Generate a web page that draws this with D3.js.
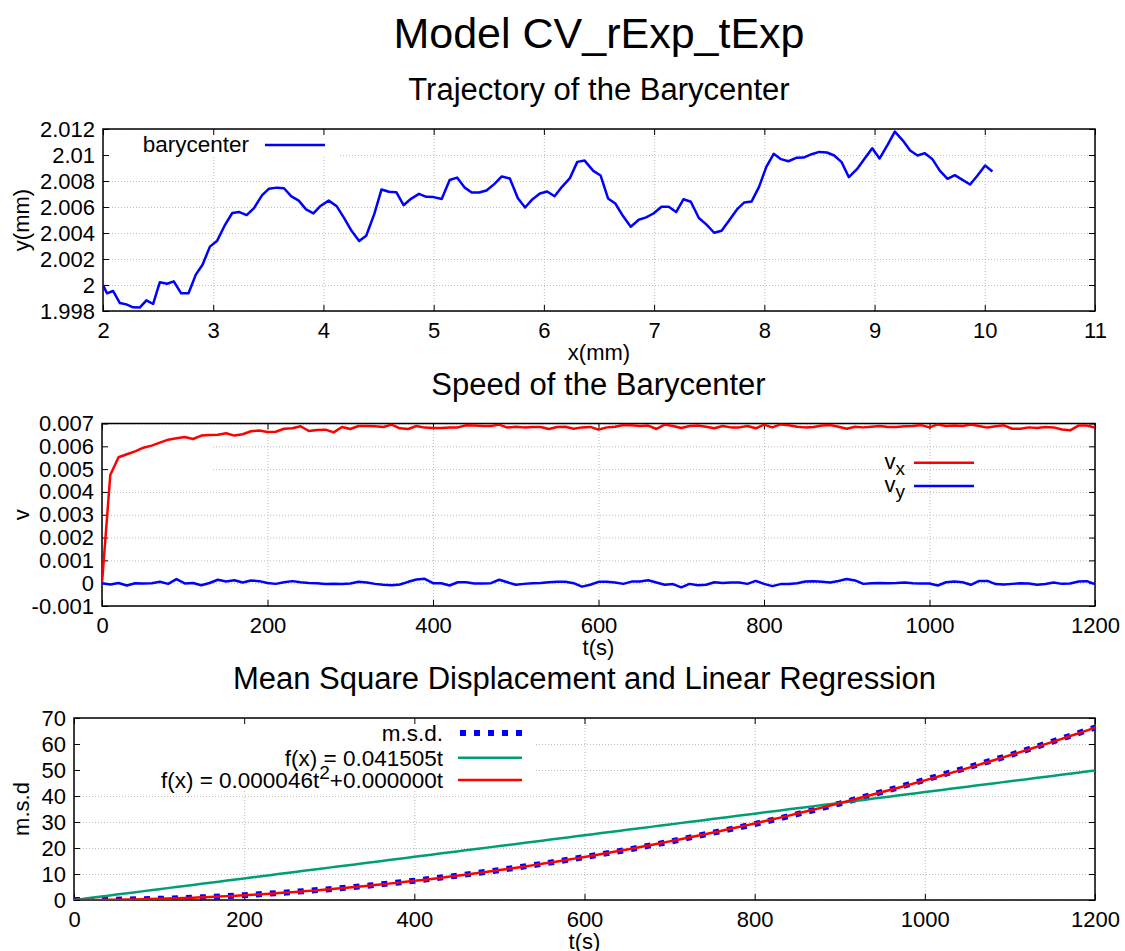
<!DOCTYPE html>
<html>
<head>
<meta charset="utf-8">
<script src="https://cdn.jsdelivr.net/npm/d3@7"></script>
<style>
  body { margin: 0; background: #fff; }
  svg text { font-family: "Liberation Sans", Arial, Helvetica, sans-serif; fill: #000; }
  .grid line { stroke: #bdbdbd; stroke-width: 1; stroke-dasharray: 1,2; }
  .grid path { display: none; }
  .ticks path { display: none; }
  .ticks line { stroke: #000; stroke-width: 1; }
  .ticks text { font-size: 22px; }
</style>
</head>
<body>
<div class="chart"></div>
<script>

// ---- trajectory of the barycenter (x, y in mm)
var posX = [2.000, 2.036, 2.091, 2.152, 2.212, 2.273, 2.333, 2.394, 2.455, 2.515, 2.582, 2.642, 2.709, 2.776, 2.842, 2.903, 2.970,
  3.036, 3.103, 3.173, 3.233, 3.303, 3.370, 3.442, 3.506, 3.576, 3.642, 3.709, 3.776, 3.842, 3.909, 3.976,
  4.048, 4.121, 4.188, 4.255, 4.324, 4.388, 4.461, 4.527, 4.594, 4.661, 4.727, 4.794, 4.867, 4.933, 5.000,
  5.073, 5.145, 5.212, 5.279, 5.345, 5.412, 5.479, 5.552, 5.618, 5.691, 5.764, 5.830, 5.897, 5.964,
  6.030, 6.097, 6.164, 6.236, 6.303, 6.370, 6.448, 6.515, 6.582, 6.648, 6.718, 6.788, 6.861, 6.927, 6.994,
  7.067, 7.133, 7.200, 7.267, 7.333, 7.406, 7.473, 7.545, 7.612, 7.685, 7.752, 7.818, 7.885, 7.952,
  8.018, 8.085, 8.151, 8.218, 8.290, 8.356, 8.429, 8.498, 8.568, 8.634, 8.701, 8.767, 8.840, 8.912, 8.979,
  9.045, 9.118, 9.184, 9.257, 9.323, 9.390, 9.456, 9.523, 9.592, 9.662, 9.728, 9.798, 9.867, 9.934,
  10.003, 10.069];
var posY = [2.00000, 1.99936, 1.99954, 1.99862, 1.99851, 1.99828, 1.99826, 1.99882, 1.99854, 2.00021, 2.00010, 2.00028, 1.99936, 1.99936, 2.00080, 2.00156, 2.00295,
  2.00341, 2.00456, 2.00554, 2.00562, 2.00538, 2.00592, 2.00690, 2.00741, 2.00749, 2.00744, 2.00682, 2.00649, 2.00582, 2.00551, 2.00610,
  2.00649, 2.00605, 2.00515, 2.00417, 2.00338, 2.00379, 2.00545, 2.00735, 2.00717, 2.00714, 2.00614, 2.00663, 2.00701, 2.00678, 2.00676,
  2.00662, 2.00808, 2.00826, 2.00751, 2.00712, 2.00712, 2.00727, 2.00778, 2.00835, 2.00819, 2.00668, 2.00596, 2.00660, 2.00704,
  2.00719, 2.00683, 2.00755, 2.00822, 2.00947, 2.00957, 2.00878, 2.00842, 2.00666, 2.00627, 2.00530, 2.00448, 2.00502, 2.00520, 2.00550,
  2.00602, 2.00602, 2.00561, 2.00660, 2.00640, 2.00515, 2.00466, 2.00402, 2.00417, 2.00502, 2.00581, 2.00635, 2.00643, 2.00755,
  2.00909, 2.01009, 2.00968, 2.00952, 2.00978, 2.00980, 2.01006, 2.01024, 2.01019, 2.00996, 2.00945, 2.00829, 2.00891, 2.00975, 2.01052,
  2.00973, 2.01078, 2.01180, 2.01111, 2.01034, 2.00996, 2.01014, 2.00970, 2.00880, 2.00817, 2.00845, 2.00809, 2.00773, 2.00842,
  2.00919, 2.00873];

// ---- speed of the barycenter, one sample every 10 s
var speedT = d3.range(0, 1201, 10);
var vx = [0, 0.00474, 0.00552, 0.00565, 0.00578, 0.00594, 0.00603, 0.00616, 0.00629, 0.00635,
  0.00641, 0.00632, 0.00647, 0.00650, 0.00651, 0.00657, 0.00647, 0.00653, 0.00666, 0.00669,
  0.00663, 0.00664, 0.00677, 0.00679, 0.00688, 0.00667, 0.00672, 0.00673, 0.00661, 0.00685,
  0.00676, 0.00689, 0.00689, 0.00688, 0.00685, 0.00695, 0.00679, 0.00676, 0.00689, 0.00682,
  0.00680, 0.00680, 0.00682, 0.00683, 0.00692, 0.00691, 0.00689, 0.00689, 0.00695, 0.00682,
  0.00686, 0.00683, 0.00685, 0.00685, 0.00676, 0.00685, 0.00686, 0.00677, 0.00683, 0.00685,
  0.00673, 0.00683, 0.00686, 0.00693, 0.00692, 0.00689, 0.00691, 0.00676, 0.00695, 0.00689,
  0.00680, 0.00689, 0.00691, 0.00686, 0.00679, 0.00689, 0.00683, 0.00683, 0.00689, 0.00679,
  0.00695, 0.00683, 0.00696, 0.00692, 0.00686, 0.00683, 0.00685, 0.00691, 0.00693, 0.00686,
  0.00677, 0.00686, 0.00683, 0.00686, 0.00689, 0.00685, 0.00685, 0.00688, 0.00689, 0.00693,
  0.00683, 0.00696, 0.00689, 0.00691, 0.00689, 0.00696, 0.00689, 0.00682, 0.00688, 0.00692,
  0.00677, 0.00677, 0.00683, 0.00680, 0.00685, 0.00683, 0.00674, 0.00670, 0.00691, 0.00691,
  0.00682];
var vy = [0, -0.00006, 0.00001, -0.00010, 0, -0.00001, 0, 0.00006, -0.00003, 0.00018,
  -0.00001, 0.00001, -0.00009, 0.00001, 0.00015, 0.00007, 0.00013, 0.00003, 0.00012, 0.00009,
  0.00001, -0.00003, 0.00004, 0.00009, 0.00004, 0.00001, 0, -0.00004, -0.00003, -0.00004,
  -0.00001, 0.00006, 0.00003, -0.00003, -0.00007, -0.00009, -0.00006, 0.00006, 0.00016, 0.00019,
  0, 0, -0.00010, 0.00004, 0.00004, -0.00001, -0.00001, 0, 0.00015, 0.00004,
  -0.00007, -0.00003, 0, 0.00001, 0.00004, 0.00006, 0.00006, 0, -0.00015, -0.00007,
  0.00006, 0.00006, 0.00003, -0.00003, 0.00007, 0.00007, 0.00013, 0.00003, -0.00007, -0.00004,
  -0.00018, -0.00003, -0.00009, -0.00007, 0.00004, 0.00001, 0.00003, 0.00003, -0.00003, 0.00010,
  -0.00003, -0.00013, -0.00004, -0.00004, 0, 0.00007, 0.00009, 0.00006, 0.00003, 0.00010,
  0.00018, 0.00012, -0.00003, 0, 0.00001, 0, 0.00001, 0.00003, 0, -0.00001,
  -0.00001, -0.00010, 0.00004, 0.00007, 0.00004, -0.00007, 0.00010, 0.00010, -0.00004, -0.00006,
  -0.00003, 0, -0.00001, -0.00007, -0.00004, 0.00003, -0.00003, -0.00001, 0.00007, 0.00009,
  -0.00004];

// ---- mean square displacement
var msdT = [0, 50, 100, 150, 200, 250, 300, 350, 400, 450, 500, 550, 600, 650, 700, 750, 800, 850, 900, 950, 1000, 1025, 1050, 1100, 1150, 1200];
var msdVal = [0, 0.1, 0.45, 1.02, 1.85, 2.9, 4.15, 5.65, 7.4, 9.35, 11.5, 13.9, 16.5, 19.3, 22.4, 25.8, 29.2, 33.0, 37.1, 41.6, 46.2, 48.6, 50.9, 55.7, 60.9, 66.3];
// regression coefficients shown in the key
var linSlope = 0.041505;
var quadCoef = [0.000046, 0.000000];

// ---- tick values
var trajXTicks = [2, 3, 4, 5, 6, 7, 8, 9, 10, 11];
var trajYTicks = [1.998, 2.000, 2.002, 2.004, 2.006, 2.008, 2.010, 2.012];
var timeTicks = [0, 200, 400, 600, 800, 1000, 1200];
var speedYTicks = [-0.001, 0, 0.001, 0.002, 0.003, 0.004, 0.005, 0.006, 0.007];
var msdYTicks = [0, 10, 20, 30, 40, 50, 60, 70];

var svg = d3.select(".chart")
  .append("svg")
  .attr("width", 1125)
  .attr("height", 951);

var fmt = function (d) { return String(+d.toFixed(6)); };

// draws frame, grid, ticks and labels of one panel, returns scales and group
function panel(p) {
  var width = p.right - p.left;
  var height = p.bottom - p.top;
  var x = d3.scaleLinear().domain(p.xDomain).range([0, width]);
  var y = d3.scaleLinear().domain(p.yDomain).range([height, 0]);

  var g = svg.append("g").attr("transform", `translate(${p.left}, ${p.top})`);

  g.append("g").attr("class", "grid")
    .attr("transform", `translate(0, ${height})`)
    .call(d3.axisBottom(x).tickValues(p.xTicks).tickSize(-height).tickFormat(""));
  g.append("g").attr("class", "grid")
    .call(d3.axisLeft(y).tickValues(p.yTicks).tickSize(-width).tickFormat(""));

  // area hidden behind the key
  if (p.blank) {
    p.blank.forEach(function (b) {
      g.append("rect")
        .attr("x", b[0] - p.left).attr("y", b[1] - p.top)
        .attr("width", b[2] - b[0]).attr("height", b[3] - b[1])
        .attr("fill", "#fff");
    });
  }

  g.append("g").attr("class", "ticks")
    .attr("transform", `translate(0, ${height})`)
    .call(d3.axisBottom(x).tickValues(p.xTicks).tickSize(-6).tickPadding(11).tickFormat(fmt));
  g.append("g").attr("class", "ticks")
    .call(d3.axisTop(x).tickValues(p.xTicks).tickSize(-6).tickFormat(""));
  g.append("g").attr("class", "ticks")
    .call(d3.axisLeft(y).tickValues(p.yTicks).tickSize(-6).tickPadding(8).tickFormat(fmt));
  g.append("g").attr("class", "ticks")
    .attr("transform", `translate(${width}, 0)`)
    .call(d3.axisRight(y).tickValues(p.yTicks).tickSize(-6).tickFormat(""));

  g.selectAll(".ticks text").attr("fill", "#000");

  g.append("rect")
    .attr("width", width).attr("height", height)
    .attr("fill", "none").attr("stroke", "#000").attr("stroke-width", 1.5);

  // titles
  svg.append("text")
    .attr("x", p.left + width / 2).attr("y", p.top - 29)
    .attr("text-anchor", "middle").attr("font-size", "31px")
    .text(p.title);
  svg.append("text")
    .attr("x", p.left + width / 2).attr("y", p.bottom + 49)
    .attr("text-anchor", "middle").attr("font-size", "22px")
    .text(p.xLabel);
  svg.append("text")
    .attr("transform", `translate(21, ${p.top + height / 2}) rotate(-90)`)
    .attr("dy", "0.35em")
    .attr("text-anchor", "middle").attr("font-size", "22px")
    .text(p.yLabel);

  var clipId = "clip" + p.top;
  svg.append("clipPath").attr("id", clipId)
    .append("rect").attr("width", width).attr("height", height);
  var plot = g.append("g").attr("clip-path", `url(#${clipId})`);

  return { x: x, y: y, g: g, plot: plot };
}

// main title
svg.append("text")
  .attr("x", 599).attr("y", 48)
  .attr("text-anchor", "middle").attr("font-size", "43px")
  .text("Model CV_rExp_tExp");

// ===== Trajectory
var p1 = panel({
  left: 103, right: 1095, top: 129, bottom: 311,
  xDomain: [2, 11], yDomain: [1.998, 2.012],
  xTicks: trajXTicks, yTicks: trajYTicks,
  title: "Trajectory of the Barycenter", xLabel: "x(mm)", yLabel: "y(mm)",
  blank: [[103, 130, 339, 157]]
});

var trajLine = d3.line()
  .x(function (d, i) { return p1.x(posX[i]); })
  .y(function (d, i) { return p1.y(posY[i]); });

p1.plot.append("path")
  .attr("d", trajLine(posX))
  .attr("fill", "none").attr("stroke", "#0000ff").attr("stroke-width", 2.5)
  .attr("stroke-linejoin", "round");

svg.append("text").attr("x", 249).attr("y", 152)
  .attr("text-anchor", "end").attr("font-size", "22.5px").text("barycenter");
svg.append("line").attr("x1", 265).attr("x2", 325).attr("y1", 145).attr("y2", 145)
  .attr("stroke", "#0000ff").attr("stroke-width", 2.5);

// ===== Speed
var p2 = panel({
  left: 102, right: 1095, top: 423.5, bottom: 606,
  xDomain: [0, 1200], yDomain: [-0.001, 0.007],
  xTicks: timeTicks, yTicks: speedYTicks,
  title: "Speed of the Barycenter", xLabel: "t(s)", yLabel: "v",
  blank: [[103, 438, 213, 476]]
});

var speedSeries = [
  { values: vx, color: "#ff0000", sub: "x", ly: 462.7 },
  { values: vy, color: "#0000ff", sub: "y", ly: 486 }
];

speedSeries.forEach(function (s) {
  var line = d3.line()
    .x(function (d, i) { return p2.x(speedT[i]); })
    .y(function (d) { return p2.y(d); });
  p2.plot.append("path")
    .attr("d", line(s.values))
    .attr("fill", "none").attr("stroke", s.color).attr("stroke-width", 2.5)
    .attr("stroke-linejoin", "round");

  var t = svg.append("text").attr("x", 905).attr("y", s.ly + 6)
    .attr("text-anchor", "end").attr("font-size", "22px");
  t.append("tspan").text("v");
  t.append("tspan").attr("dy", 6).attr("font-size", "19px").text(s.sub);
  svg.append("line").attr("x1", 914).attr("x2", 974).attr("y1", s.ly).attr("y2", s.ly)
    .attr("stroke", s.color).attr("stroke-width", 2.5);
});

// ===== Mean square displacement
var p3 = panel({
  left: 74, right: 1095, top: 718, bottom: 900,
  xDomain: [0, 1200], yDomain: [0, 70],
  xTicks: timeTicks, yTicks: msdYTicks,
  title: "Mean Square Displacement and Linear Regression", xLabel: "t(s)", yLabel: "m.s.d",
  blank: [[75, 719, 534, 790]]
});

var msdLine = d3.line()
  .x(function (d, i) { return p3.x(msdT[i]); })
  .y(function (d) { return p3.y(d); });

p3.plot.append("path")
  .attr("d", msdLine(msdVal))
  .attr("fill", "none").attr("stroke", "#0000ff").attr("stroke-width", 6)
  .attr("stroke-dasharray", "6,8");

var fitT = d3.range(0, 1201, 10);
var fitLine = d3.line()
  .x(function (d) { return p3.x(d[0]); })
  .y(function (d) { return p3.y(d[1]); });

p3.plot.append("path")
  .attr("d", fitLine(fitT.map(function (t) { return [t, linSlope * t]; })))
  .attr("fill", "none").attr("stroke", "#009e73").attr("stroke-width", 2.5);

p3.plot.append("path")
  .attr("d", fitLine(fitT.map(function (t) { return [t, quadCoef[0] * t * t + quadCoef[1] * t]; })))
  .attr("fill", "none").attr("stroke", "#ff0000").attr("stroke-width", 2.5);

// key
svg.append("text").attr("x", 443).attr("y", 741)
  .attr("text-anchor", "end").attr("font-size", "22.5px").text("m.s.d.");
svg.append("line").attr("x1", 460).attr("x2", 522).attr("y1", 733).attr("y2", 733)
  .attr("stroke", "#0000ff").attr("stroke-width", 6).attr("stroke-dasharray", "6,8");

svg.append("text").attr("x", 443).attr("y", 765.5)
  .attr("text-anchor", "end").attr("font-size", "22.5px").text("f(x) = 0.041505t");
svg.append("line").attr("x1", 458).attr("x2", 522).attr("y1", 757.7).attr("y2", 757.7)
  .attr("stroke", "#009e73").attr("stroke-width", 2.5);

var q = svg.append("text").attr("x", 443).attr("y", 788)
  .attr("text-anchor", "end").attr("font-size", "22.5px");
q.append("tspan").text("f(x) = 0.000046t");
q.append("tspan").attr("dy", -9).attr("font-size", "19px").text("2");
q.append("tspan").attr("dy", 9).text("+0.000000t");
svg.append("line").attr("x1", 458).attr("x2", 522).attr("y1", 780).attr("y2", 780)
  .attr("stroke", "#ff0000").attr("stroke-width", 2.5);

</script>
</body>
</html>
